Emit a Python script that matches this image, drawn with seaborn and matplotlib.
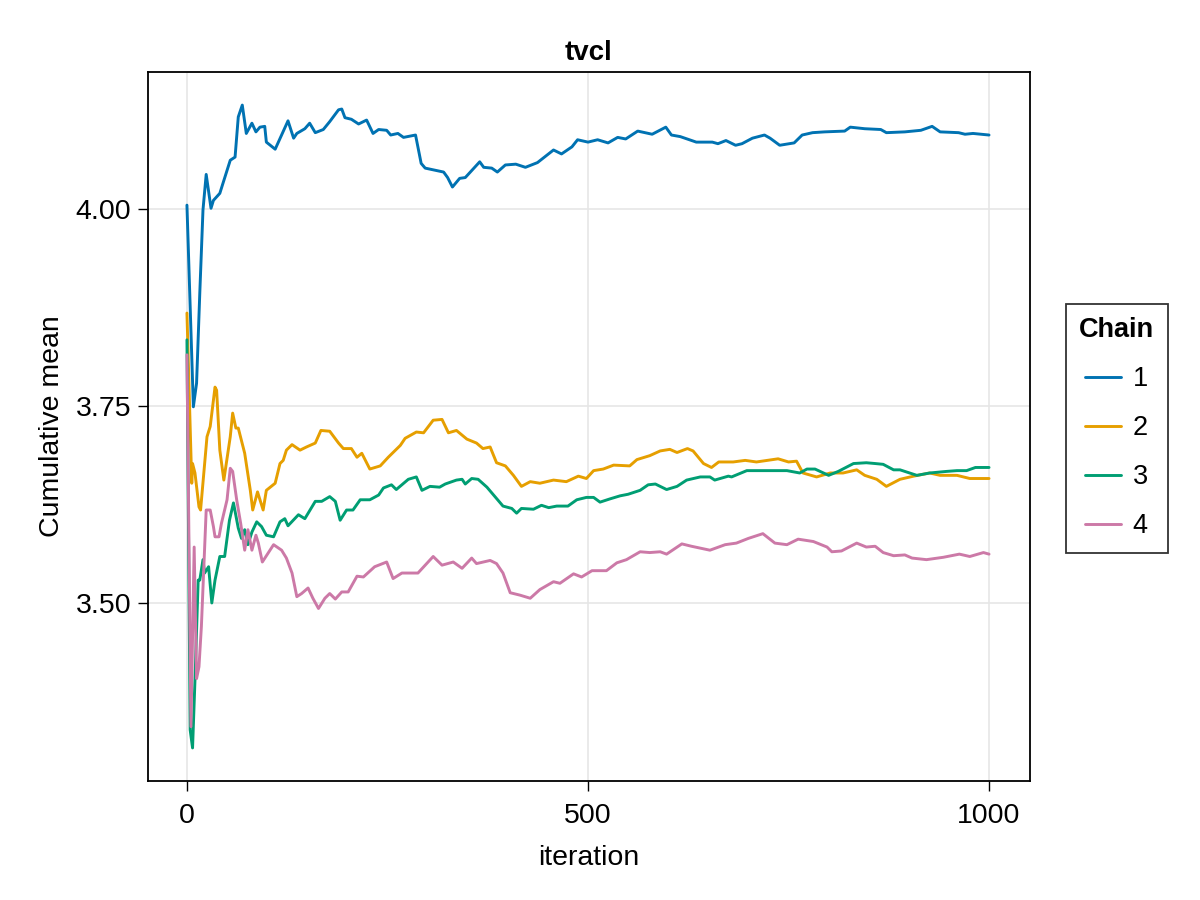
import pandas as pd
import matplotlib.pyplot as plt
import seaborn as sns

# cumulative mean of tvcl per chain
it_1 = [0, 8, 12, 16, 20, 24, 30, 33, 41, 45, 54, 60, 64, 69, 74, 81, 86, 91, 97, 99,
        110, 118, 126, 133, 137, 147, 153, 160, 170, 178, 189, 193, 197, 205, 214, 224,
        232, 239, 249, 254, 263, 270, 285, 292, 297, 320, 325, 331, 340, 347, 365, 370,
        380, 387, 397, 410, 422, 437, 457, 467, 480, 487, 500, 512, 525, 537, 547, 562,
        580, 597, 604, 615, 635, 655, 662, 672, 684, 692, 705, 720, 727, 739, 757, 767,
        780, 795, 820, 827, 845, 865, 872, 895, 915, 929, 939, 962, 970, 980, 1000]
mean_1 = [4.005, 3.749, 3.779, 3.893, 3.999, 4.044, 4.001, 4.011, 4.020, 4.033, 4.062,
          4.066, 4.117, 4.132, 4.096, 4.109, 4.098, 4.104, 4.105, 4.085, 4.076, 4.094,
          4.112, 4.090, 4.096, 4.102, 4.109, 4.097, 4.101, 4.111, 4.126, 4.127, 4.116,
          4.114, 4.108, 4.113, 4.096, 4.101, 4.100, 4.094, 4.096, 4.091, 4.094, 4.058,
          4.052, 4.047, 4.040, 4.028, 4.039, 4.040, 4.060, 4.053, 4.052, 4.047, 4.056,
          4.057, 4.053, 4.059, 4.075, 4.070, 4.079, 4.088, 4.085, 4.088, 4.084, 4.091,
          4.089, 4.099, 4.095, 4.104, 4.094, 4.092, 4.085, 4.085, 4.083, 4.087, 4.081,
          4.083, 4.090, 4.094, 4.090, 4.081, 4.084, 4.094, 4.097, 4.098, 4.099, 4.104,
          4.102, 4.101, 4.097, 4.098, 4.100, 4.105, 4.098, 4.097, 4.095, 4.096, 4.094]

it_2 = [0, 6, 7, 10, 15, 17, 25, 29, 35, 37, 41, 46, 54, 57, 61, 64, 72, 79, 82, 88,
        95, 99, 110, 116, 120, 124, 131, 141, 149, 160, 167, 178, 189, 195, 205, 212,
        218, 228, 241, 251, 266, 272, 286, 295, 307, 318, 326, 336, 349, 361, 369, 378,
        386, 397, 407, 417, 428, 440, 457, 473, 488, 498, 507, 519, 532, 552, 561, 577,
        590, 602, 611, 624, 631, 644, 654, 663, 681, 696, 710, 737, 750, 760, 768, 785,
        802, 818, 835, 845, 860, 872, 889, 906, 926, 939, 960, 976, 1000]
mean_2 = [3.868, 3.652, 3.677, 3.665, 3.622, 3.618, 3.711, 3.724, 3.774, 3.770, 3.694,
          3.656, 3.711, 3.741, 3.722, 3.722, 3.690, 3.643, 3.618, 3.641, 3.618, 3.643,
          3.652, 3.677, 3.681, 3.694, 3.701, 3.694, 3.698, 3.703, 3.719, 3.718, 3.703,
          3.696, 3.696, 3.685, 3.690, 3.670, 3.674, 3.685, 3.700, 3.709, 3.717, 3.716,
          3.732, 3.733, 3.716, 3.719, 3.708, 3.703, 3.696, 3.698, 3.678, 3.674, 3.662,
          3.648, 3.654, 3.652, 3.656, 3.654, 3.661, 3.658, 3.668, 3.670, 3.675, 3.674,
          3.682, 3.687, 3.693, 3.695, 3.691, 3.696, 3.693, 3.677, 3.672, 3.679, 3.679,
          3.681, 3.679, 3.683, 3.679, 3.680, 3.665, 3.660, 3.665, 3.665, 3.669, 3.662,
          3.657, 3.648, 3.657, 3.661, 3.665, 3.662, 3.662, 3.658, 3.658]

it_3 = [0, 4, 7, 10, 14, 16, 20, 22, 27, 31, 35, 41, 47, 53, 58, 64, 68, 72, 76, 81,
        87, 93, 99, 108, 116, 122, 126, 139, 147, 160, 168, 178, 185, 191, 199, 207,
        216, 228, 239, 245, 255, 261, 276, 286, 293, 303, 315, 322, 336, 343, 347, 355,
        363, 374, 384, 394, 405, 411, 417, 432, 442, 451, 461, 475, 486, 498, 507, 515,
        527, 540, 550, 565, 575, 584, 598, 611, 623, 640, 652, 658, 675, 679, 698, 723,
        748, 764, 773, 783, 800, 812, 831, 847, 858, 868, 881, 889, 910, 926, 947, 960,
        972, 983, 1000]
mean_3 = [3.834, 3.339, 3.316, 3.402, 3.529, 3.529, 3.555, 3.538, 3.546, 3.500, 3.529,
          3.559, 3.559, 3.605, 3.627, 3.595, 3.582, 3.593, 3.574, 3.590, 3.603, 3.597,
          3.586, 3.584, 3.603, 3.607, 3.598, 3.612, 3.607, 3.629, 3.629, 3.635, 3.629,
          3.605, 3.618, 3.618, 3.631, 3.631, 3.637, 3.646, 3.650, 3.644, 3.657, 3.660,
          3.643, 3.648, 3.647, 3.651, 3.656, 3.657, 3.651, 3.658, 3.657, 3.647, 3.635,
          3.623, 3.620, 3.614, 3.620, 3.619, 3.624, 3.621, 3.623, 3.623, 3.631, 3.634,
          3.634, 3.628, 3.632, 3.636, 3.638, 3.643, 3.650, 3.651, 3.644, 3.648, 3.656,
          3.660, 3.660, 3.656, 3.661, 3.660, 3.668, 3.668, 3.668, 3.665, 3.670, 3.670,
          3.662, 3.667, 3.677, 3.678, 3.677, 3.676, 3.669, 3.669, 3.662, 3.665, 3.667,
          3.668, 3.668, 3.672, 3.672]

it_4 = [0, 5, 9, 12, 15, 18, 24, 29, 33, 35, 40, 43, 50, 54, 57, 62, 67, 72, 76, 81,
        86, 89, 94, 101, 108, 118, 124, 131, 137, 143, 151, 157, 164, 172, 178, 185,
        193, 201, 212, 220, 234, 249, 257, 268, 288, 307, 318, 332, 343, 355, 361, 378,
        386, 394, 403, 415, 428, 440, 457, 465, 482, 492, 505, 523, 536, 548, 565, 577,
        590, 598, 617, 629, 652, 671, 685, 700, 718, 733, 748, 762, 781, 798, 804, 816,
        835, 847, 858, 868, 881, 895, 904, 922, 943, 963, 976, 993, 1000]
mean_4 = [3.815, 3.343, 3.571, 3.404, 3.419, 3.470, 3.618, 3.618, 3.597, 3.584, 3.584,
          3.601, 3.631, 3.671, 3.667, 3.631, 3.601, 3.567, 3.593, 3.567, 3.586, 3.576,
          3.552, 3.563, 3.574, 3.567, 3.557, 3.538, 3.508, 3.512, 3.519, 3.506, 3.493,
          3.506, 3.512, 3.505, 3.514, 3.514, 3.534, 3.533, 3.546, 3.552, 3.531, 3.538,
          3.538, 3.559, 3.548, 3.552, 3.544, 3.557, 3.550, 3.554, 3.550, 3.538, 3.513,
          3.510, 3.506, 3.517, 3.527, 3.525, 3.537, 3.533, 3.541, 3.541, 3.551, 3.555,
          3.565, 3.564, 3.565, 3.562, 3.575, 3.572, 3.567, 3.574, 3.576, 3.582, 3.588,
          3.576, 3.574, 3.581, 3.578, 3.571, 3.565, 3.566, 3.576, 3.571, 3.572, 3.564,
          3.560, 3.561, 3.557, 3.555, 3.558, 3.562, 3.559, 3.564, 3.562]

chains = ["1", "2", "3", "4"]
colors = ["#0072B2", "#E69F00", "#009E73", "#CC79A7"]

frames = []
for c, its, vals in zip(chains, [it_1, it_2, it_3, it_4], [mean_1, mean_2, mean_3, mean_4]):
    frames.append(pd.DataFrame({"iteration": its, "mean": vals, "chain": c}))
df = pd.concat(frames, ignore_index=True)

sns.set_style("white")
plt.rcParams["font.family"] = ["Liberation Sans", "DejaVu Sans"]
plt.rcParams["text.color"] = "black"
plt.rcParams["axes.labelcolor"] = "black"
plt.rcParams["xtick.color"] = "black"
plt.rcParams["ytick.color"] = "black"

fig = plt.figure(figsize=(12, 9), dpi=100)
ax = fig.add_axes([0.1233, 0.1322, 0.735, 0.7878])

sns.lineplot(data=df, x="iteration", y="mean", hue="chain", palette=colors,
             estimator=None, sort=False, linewidth=2.1, ax=ax)

ax.set_xlim(-48.6, 1051)
ax.set_ylim(3.274, 4.174)
ax.set_xticks([0, 500, 1000])
ax.set_yticks([3.50, 3.75, 4.00])
ax.set_yticklabels(["3.50", "3.75", "4.00"])
ax.grid(True, color="#e6e6e6", linewidth=1.2)
ax.set_axisbelow(True)
for s in ax.spines.values():
    s.set_color("black")
    s.set_linewidth(1.3)
ax.tick_params(direction="out", length=7, width=1, color="black", labelsize=20.5,
               bottom=True, left=True)
ax.tick_params(axis="x", pad=9)
ax.tick_params(axis="y", pad=5)

ax.set_title("tvcl", fontsize=20, fontweight="bold", pad=9)
ax.set_xlabel("iteration", fontsize=20.5, labelpad=11)
ax.set_ylabel("Cumulative mean", fontsize=20.5, labelpad=8)

handles, labels = ax.get_legend_handles_labels()
leg = ax.legend(handles, labels, title="Chain", loc="center left",
                bbox_to_anchor=(0.888, 0.524), bbox_transform=fig.transFigure,
                borderaxespad=0, fontsize=19.5, title_fontproperties={"weight": "bold", "size": 19.5},
                frameon=True, fancybox=False, edgecolor="black", handlelength=1.3,
                labelspacing=0.85, borderpad=0.5, handletextpad=0.45)
leg.get_frame().set_linewidth(1.3)
for line in leg.get_lines():
    line.set_linewidth(2.1)

fig.savefig("out.png", dpi=100)
